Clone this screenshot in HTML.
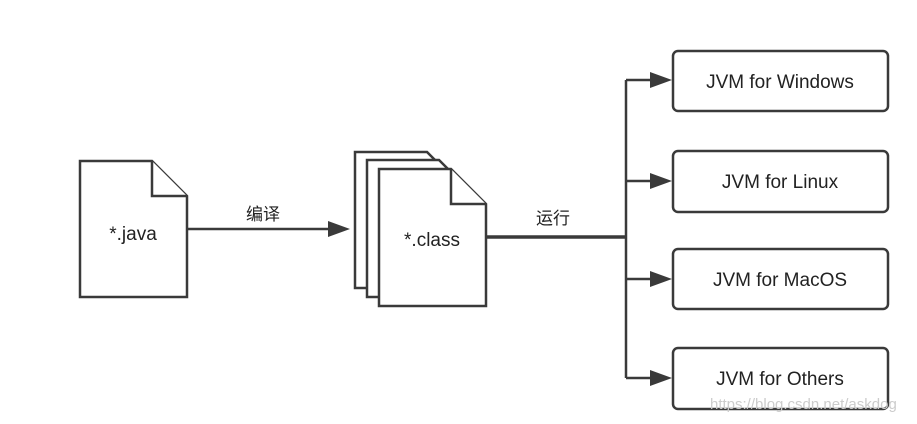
<!DOCTYPE html>
<html><head><meta charset="utf-8"><style>
body{margin:0;background:#fff;width:917px;height:419px;overflow:hidden}
</style></head><body>
<svg width="917" height="419" xmlns="http://www.w3.org/2000/svg" font-family="Liberation Sans, Noto Sans CJK SC, sans-serif">
<g fill="#fff" stroke="#3a3a3a" stroke-width="2.5" stroke-linejoin="miter">
<path d="M80 161 H152 L187 196 V297 H80 Z"/>
<path d="M152 161 V196 H187"/>
<path d="M355 152 H427 L462 187 V288 H355 Z"/>
<path d="M367 160 H439 L474 195 V297 H367 Z"/>
<path d="M379 169 H451 L486 204 V306 H379 Z"/>
<path d="M451 169 V204 H486"/>
</g>
<g stroke="#3a3a3a" fill="none">
<line x1="187" y1="229" x2="330" y2="229" stroke-width="2.5"/>
<line x1="486" y1="237" x2="626" y2="237" stroke-width="3.5"/>
<line x1="626" y1="80" x2="626" y2="378" stroke-width="2.5"/>
<line x1="626" y1="80" x2="652" y2="80" stroke-width="2.5"/>
<line x1="626" y1="181" x2="652" y2="181" stroke-width="2.5"/>
<line x1="626" y1="279" x2="652" y2="279" stroke-width="2.5"/>
<line x1="626" y1="378" x2="652" y2="378" stroke-width="2.5"/>
</g>
<g fill="#3a3a3a">
<path d="M328 221 L350 229 L328 237 Z"/>
<path d="M650 72 L672 80 L650 88 Z"/>
<path d="M650 173 L672 181 L650 189 Z"/>
<path d="M650 271 L672 279 L650 287 Z"/>
<path d="M650 370 L672 378 L650 386 Z"/>
</g>
<g fill="#fff" stroke="#3a3a3a" stroke-width="2.5">
<rect x="673" y="51" width="215" height="60" rx="5"/>
<rect x="673" y="151" width="215" height="61" rx="5"/>
<rect x="673" y="249" width="215" height="60" rx="5"/>
<rect x="673" y="348" width="215" height="61" rx="5"/>
</g>
<g fill="#222" font-size="19" text-anchor="middle">
<text x="133" y="240">*.java</text>
<text x="432" y="246">*.class</text>
<text x="780" y="88">JVM for Windows</text>
<text x="780" y="188">JVM for Linux</text>
<text x="780" y="286">JVM for MacOS</text>
<text x="780" y="385">JVM for Others</text>
<text x="263" y="220" font-size="17">编译</text>
<text x="553" y="224" font-size="17">运行</text>
</g>
<text x="710" y="409" font-size="15" fill="#ccc">https://blog.csdn.net/askdog</text>
</svg>
</body></html>
